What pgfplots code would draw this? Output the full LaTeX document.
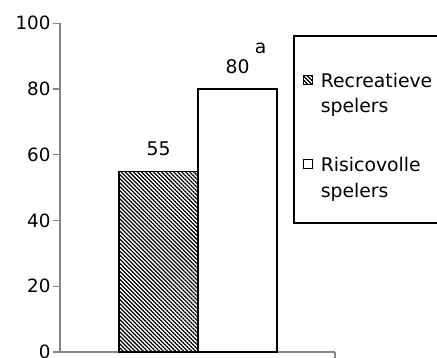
\documentclass[border=0pt]{standalone}
\usepackage{fontspec}
\setmainfont{DejaVu Sans}
\usepackage{pgfplots}
\pgfplotsset{compat=1.18}
\usetikzlibrary{patterns.meta}
\definecolor{axisgray}{RGB}{134,134,134}
\tikzset{hatch/.style={pattern={Lines[angle=-45,distance=2.85bp,line width=1.25bp]}, pattern color=black}}
\pgfplotsset{mylegend/.style={legend image code/.code={\draw[##1,line width=1.1bp] (0bp,3bp) rectangle (9.5bp,12.5bp);}}}
\newcommand\lt[2]{\makebox[125bp][l]{\rule{0pt}{#2}#1}}
\begin{document}
\begin{tikzpicture}[x=1bp,y=1bp]
\useasboundingbox (0,0) rectangle (437,357);
\begin{axis}[
  at={(60bp,5bp)}, anchor=south west,
  scale only axis, width=275bp, height=328.7bp,
  xmin=0, xmax=275, ymin=0, ymax=100,
  axis lines=left,
  axis line style={-, axisgray, line width=1.2bp},
  ytick={0,20,...,100}, xtick={275}, xticklabels={},
  tick align=outside, major tick length=7.5bp,
  tick style={axisgray, line width=1.2bp},
  /pgf/number format/assume math mode=true,
  yticklabel style={font=\fontsize{18.3bp}{18.3bp}\selectfont, text=black, xshift=1.5bp},
  ybar, bar width=79,
  nodes near coords, point meta=explicit symbolic,
  every node near coord/.append style={anchor=base, inner sep=0pt, yshift=15.5bp, font=\fontsize{18.8bp}{18.8bp}\selectfont, text=black},
  legend style={at={(axis cs:233.3,96.4)}, anchor=north west, draw=black, line width=1.5bp,
    inner xsep=8.7bp, inner ysep=25bp, row sep=0pt, column sep=7.5bp,
    font=\fontsize{18.8bp}{22bp}\selectfont,
    cells={anchor=base west},
    nodes={inner sep=0pt, text depth=0pt}},
]
\addplot[draw=black, line width=1.3bp, hatch, bar shift=0pt, mylegend] coordinates {(98.5,55) [55]};
\addlegendentry{\lt{Recreatieve}{26.7bp}}
\addlegendimage{empty legend}
\addlegendentry{\lt{spelers}{25.3bp}}
\addplot[draw=black, line width=1.3bp, fill=white, bar shift=0pt, mylegend] coordinates {(177.5,80) [{80\rlap{\hspace{5.5bp}\raisebox{20bp}{a}}}]};
\addlegendentry{\lt{Risicovolle}{59bp}}
\addlegendimage{empty legend}
\addlegendentry{\lt{spelers}{26bp}}
\end{axis}
\end{tikzpicture}
\end{document}
